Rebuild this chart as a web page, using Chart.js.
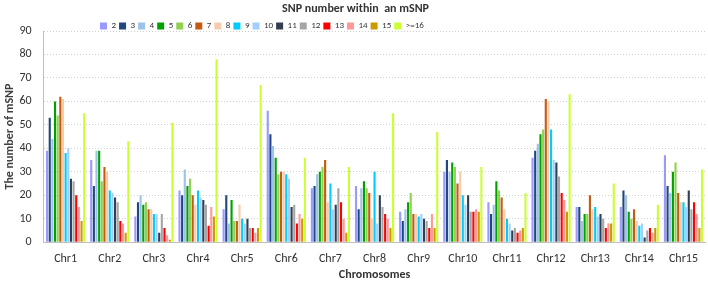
<!DOCTYPE html>
<html>
<head>
<meta charset="utf-8">
<script src="https://cdn.jsdelivr.net/npm/chart.js@4"></script>
<style>
  html, body { margin:0; padding:0; background:#fff; }
  #wrap { width:708px; height:282px; position:relative; }
</style>
</head>
<body>
<div id="wrap"><canvas id="c"></canvas></div>
<script>
// SNP count per mSNP, grouped by chromosome
const chromosomes = ["Chr1","Chr2","Chr3","Chr4","Chr5","Chr6","Chr7","Chr8","Chr9","Chr10","Chr11","Chr12","Chr13","Chr14","Chr15"];
const seriesNames = ["2","3","4","5","6","7","8","9","10","11","12","13","14","15",">=16"];
const seriesColors = ["#9999ff","#1f497d","#9dc3e6","#00a000","#92d050","#c55a11","#f8cbad","#00ccff","#a3cfff","#333f50","#a6a6a6","#ff0000","#ff9999","#cc9900","#ccff33"];

const s2   = [39,35,11,22,14,56,23,24,13,30,17,36,15,15,37];
const s3   = [53,24,17,20,20,46,24,14,9,35,12,39,15,22,24];
const s4   = [44,39,20,31,8,41,29,23,14,30,16,42,9,20,21];
const s5   = [60,39,16,24,18,36,30,26,17,34,26,46,12,13,30];
const s6   = [54,26,17,27,9,29,32,23,21,32,22,48,12,10,34];
const s7   = [62,32,14,20,9,30,35,21,12,25,19,61,20,14,21];
const s8   = [61,30,14,16,16,30,17,10,12,30,14,60,14,9,17];
const s9   = [38,22,12,22,10,29,25,30,11,20,10,48,15,7,17];
const s10  = [40,21,12,19,8,27,14,8,12,16,8,35,11,8,15];
const s11  = [27,19,4,18,10,15,16,20,10,20,5,34,12,2,22];
const s12  = [26,17,12,16,6,16,23,15,9,13,6,28,10,5,14];
const s13  = [20,9,6,7,6,8,17,12,6,13,4,21,6,6,17];
const s14  = [15,8,3,15,4,12,10,10,12,14,5,18,8,4,12];
const s15  = [9,4,1,11,6,10,4,6,6,13,6,13,8,6,6];
const s16  = [55,43,51,78,67,36,32,55,47,32,21,63,25,16,31];
const seriesValues = [s2,s3,s4,s5,s6,s7,s8,s9,s10,s11,s12,s13,s14,s15,s16];

const yTicks = {min:0, max:90, step:10};

Chart.defaults.font.family = "Carlito, Lato, 'Liberation Sans', Arial, sans-serif";
Chart.defaults.color = "#404040";

// legend: keep it thin and push it left of centre like the original
const legendPlace = {
  id:"legendPlace",
  beforeLayout(chart) {
    const lg = chart.legend;
    if (!lg || lg._thin) return;
    const fit = lg.fit.bind(lg);
    lg.fit = function() { fit(); this.height = 14.6; };
    lg._thin = true;
  },
  afterLayout(chart) {
    const lg = chart.legend;
    if (!lg) return;
    const w = lg.right - lg.left;
    lg.left = 97; lg.right = lg.left + w;
    lg.top += 2; lg.bottom += 2;
  }
};

new Chart(document.getElementById("c"), {
  type:"bar",
  data:{
    labels: chromosomes,
    datasets: seriesNames.map((n, i) => ({
      label:n, data:seriesValues[i], backgroundColor:seriesColors[i],
      borderWidth:0, categoryPercentage:0.9, barPercentage:0.8,
    })),
  },
  plugins:[legendPlace],
  options:{
    responsive:true, maintainAspectRatio:false, animation:false,
    layout:{padding:{left:3, right:0, top:2, bottom:0}},
    plugins:{
      title:{display:true, text:"SNP number within  an mSNP", color:"#333",
        font:{size:12, weight:"bold"}, padding:{top:0, bottom:0}},
      legend:{align:"start",
        labels:{boxWidth:7, boxHeight:7, padding:3, color:"#333", font:{size:9}}},
      tooltip:{enabled:false},
    },
    scales:{
      x:{grid:{display:false, drawTicks:false}, border:{color:"#bfbfbf"},
        ticks:{padding:10, font:{size:12}, color:"#333", maxRotation:0},
        title:{display:true, text:"Chromosomes", font:{size:12, weight:"bold"}, color:"#333", padding:{top:-9, bottom:0}}},
      y:{min:yTicks.min, max:yTicks.max,
        ticks:{stepSize:yTicks.step, font:{size:12}, color:"#333", padding:12},
        grid:{color:"#cfcfcf", drawTicks:false},
        border:{color:"#bfbfbf", dash:[1,2]},
        title:{display:true, text:"The number of mSNP", font:{size:12, weight:"bold"}, color:"#404040", padding:{top:0, bottom:-10}}},
    },
  },
});
</script>
</body>
</html>
